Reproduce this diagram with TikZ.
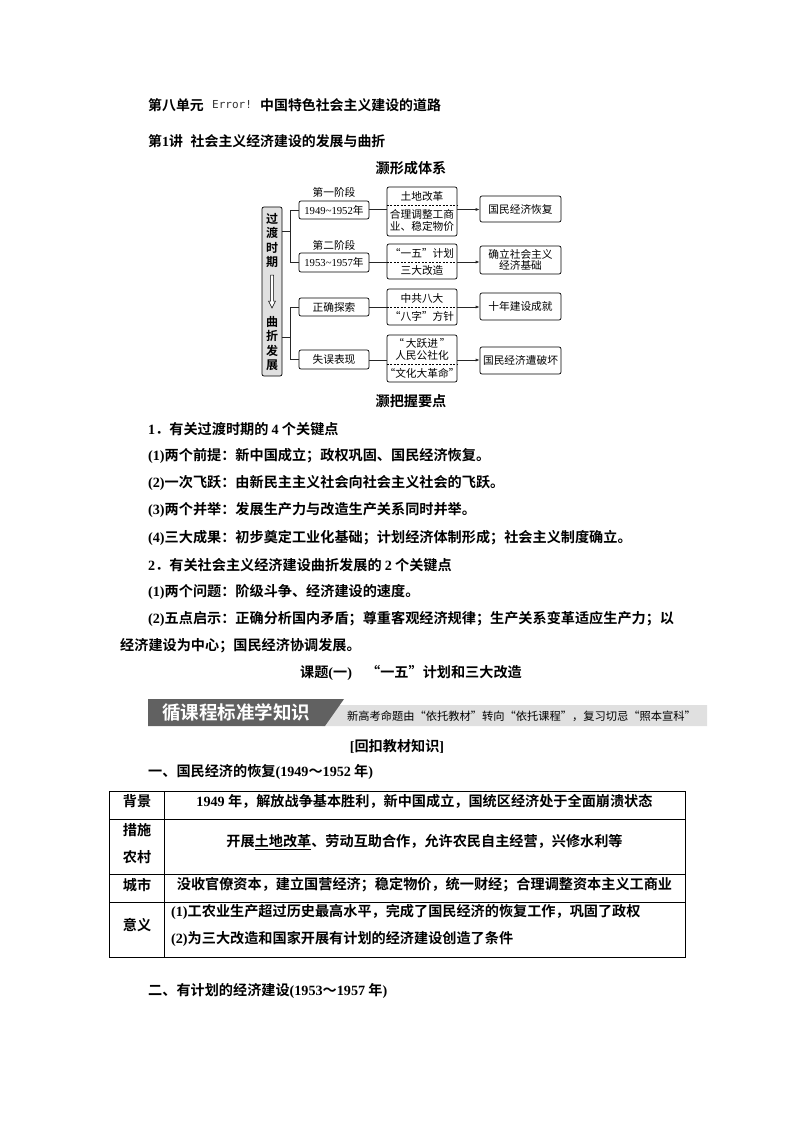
\documentclass[tikz,border=0pt]{standalone}
\usepackage{fontspec}
\usetikzlibrary{arrows.meta}
\setmainfont{Liberation Serif}
\newfontfamily\cjk{Noto Sans CJK SC}
\newfontfamily\cjkb{Noto Sans CJK SC Bold}
\newfontfamily\latb{Liberation Serif Bold}
\newfontfamily\latr{Liberation Serif}
\newfontfamily\monof{DejaVu Sans Mono}
\newcommand{\fs}[1]{\fontsize{#1}{#1}\selectfont}
\newcommand{\nb}[1]{{\latb #1}}
\newcommand{\nr}[1]{{\latr #1}}
\tikzset{x=1pt,y=-1pt,
 txt/.style={inner sep=0pt,anchor=west,font=\cjkb\fs{14.15}},
 ttl/.style={inner sep=0pt,anchor=west,font=\cjkb\fs{13.9}},
 ctr/.style={inner sep=0pt,anchor=center,font=\cjkb\fs{14.15}},
 dia/.style={inner sep=0pt,anchor=center,align=center,font=\cjk\fs{10.7}},
 boxr/.style={draw=black,line width=0.7pt,rounded corners=2pt,fill=white,inner sep=0pt,align=center,font=\cjk\fs{10.7}},
 conn/.style={draw=black!85,line width=0.7pt},
 arr/.style={conn,-{Latex[length=4pt,width=3pt]}},
 dsh/.style={draw=black,line width=0.6pt,dash pattern=on 2pt off 1.5pt},
 tline/.style={draw=black,line width=0.9pt}}
\begin{document}
\begin{tikzpicture}
\useasboundingbox (0,0) rectangle (794,1123);
\fill[white] (0,0) rectangle (794,1123);
% headings
\node[ttl] (t1a) at (148,105) {第八单元};
\node[inner sep=0pt,anchor=west,font=\monof\fs{11},text=black!80] (t1b) at (212,105) {Error!};
\node[ttl] (t1c) at (260,105) {中国特色社会主义建设的道路};
\node[ttl] (t2a) at (148,141) {第\nb{1}讲};
\node[ttl] (t2b) at (190.5,141) {社会主义经济建设的发展与曲折};
\node[ctr] (t3) at (411,168) {灏形成体系};
\node[ctr] (t4) at (411,401) {灏把握要点};
% diagram nodes
\node[boxr,fill=black!12,minimum width=20pt,minimum height=169pt] (L) at (272,291.5) {};
\node[inner sep=0pt,align=center,font=\cjkb\fs{12},anchor=north] (gd) at (272,213) {过\\[2.5pt]渡\\[2.5pt]时\\[2.5pt]期};
\node[inner sep=0pt,align=center,font=\cjkb\fs{12},anchor=south] (qz) at (272,371) {曲\\[2.5pt]折\\[2.5pt]发\\[2.5pt]展};
\draw[black,line width=0.5pt,fill=white] (270.5,275) -- (273.5,275) -- (273.5,301) -- (275.5,301) -- (272,308) -- (268.5,301) -- (270.5,301) -- cycle;
\coordinate (lb1) at (290.5,231);
\coordinate (lb2) at (290.5,337);
\node[dia] (s1) at (334,192.5) {第一阶段};
\node[dia] (s2) at (334,245) {第二阶段};
\foreach \n/\a/\b/\lab in {a1/201/219/{\nr{1949\textasciitilde1952}年},a2/253/272/{\nr{1953\textasciitilde1957}年},a3/298/316/正确探索,a4/350/369/失误表现}{
  \node[boxr,minimum width=70pt,minimum height={(\b-\a)*1pt}] (\n) at (334,{(\a+\b)/2}) {\lab};
}
\foreach \n/\a/\b/\d in {b1/187/236/205,b2/244/279/262,b3/289/325/307,b4/335/382/364}{
  \node[boxr,minimum width=70pt,minimum height={(\b-\a)*1pt}] (\n) at (422,{(\a+\b)/2}) {};
  \coordinate (d\n) at (422,\d);
  \draw[dsh] (\n.west |- d\n) -- (\n.east |- d\n);
}
\node[dia] (b1u) at (422,196) {土地改革};
\node[dia] (b1l) at (422,220.5) {合理调整工商\\[1.5pt]业、稳定物价};
\node[dia] (b2u) at (422,253) {“一五”计划};
\node[dia] (b2l) at (422,270.5) {三大改造};
\node[dia] (b3u) at (422,298.5) {中共八大};
\node[dia] (b3l) at (422,316) {“八字”方针};
\node[dia] (b4u) at (422,349.5) {“\,大跃进\,”\\[1pt]人民公社化};
\node[dia] (b4l) at (422,373) {“文化大革命”};
\foreach \n/\a/\b/\lab in {c1/196/222/国民经济恢复,c2/246/274/{确立社会主义\\[0pt]经济基础},c3/293/320/十年建设成就,c4/347/374/国民经济遭破坏}{
  \node[boxr,minimum width=81pt,minimum height={(\b-\a)*1pt}] (\n) at (520.5,{(\a+\b)/2}) {\lab};
}
% connectors
\draw[conn] (L.east |- lb1) -- (lb1);
\draw[conn] (a1.west) -- (a1.west -| lb1) -- (a2.west -| lb1) -- (a2.west);
\draw[conn] (L.east |- lb2) -- (lb2);
\draw[conn] (a3.west) -- (a3.west -| lb2) -- (a4.west -| lb2) -- (a4.west);
\foreach \i/\y in {1/209.5,2/262,3/307,4/360}{
  \coordinate (j\i) at (422,\y);
  \draw[conn] (a\i.east |- j\i) -- (b\i.west |- j\i);
  \draw[arr] (b\i.east |- j\i) -- (c\i.west |- j\i);
}
% body
\node[txt] (p1) at (148,429) {\nb{1}．有关过渡时期的 \nb{4} 个关键点};
\node[txt] (p2) at (148,456) {\nb{(1)}两个前提：新中国成立；政权巩固、国民经济恢复。};
\node[txt] (p3) at (148,483) {\nb{(2)}一次飞跃：由新民主主义社会向社会主义社会的飞跃。};
\node[txt] (p4) at (148,510) {\nb{(3)}两个并举：发展生产力与改造生产关系同时并举。};
\node[txt] (p5) at (148,538) {\nb{(4)}三大成果：初步奠定工业化基础；计划经济体制形成；社会主义制度确立。};
\node[txt] (p6) at (148,565) {\nb{2}．有关社会主义经济建设曲折发展的 \nb{2} 个关键点};
\node[txt] (p7) at (148,592) {\nb{(1)}两个问题：阶级斗争、经济建设的速度。};
\node[txt] (p8) at (148,619) {\nb{(2)}五点启示：正确分析国内矛盾；尊重客观经济规律；生产关系变革适应生产力；以};
\node[txt] (p9) at (120,646) {经济建设为中心；国民经济协调发展。};
\node[ctr] (p10) at (411,673) {课题\nb{(}一\nb{)}\quad “一五”计划和三大改造};
% banner
\fill[black!12] (330,705) -- (707,705) -- (707,726) -- (322,726) -- cycle;
\fill[black!62] (148,699) -- (344,699) -- (325,726) -- (148,726) -- cycle;
\node[inner sep=0pt,anchor=west,font=\cjkb\fs{18.5},text=white] (bn) at (162,713) {循课程标准学知识};
\node[inner sep=0pt,anchor=west,font=\cjk\fs{11.25}] (bs) at (347,716) {新高考命题由“依托教材”转向“依托课程”，复习切忌“照本宣科”};
\node[ctr] (h1) at (397,746) {\nb{[}回扣教材知识\nb{]}};
\node[txt] (h2) at (148,772) {一、国民经济的恢复\nb{(1949}～\nb{1952} 年\nb{)}};
% table
\draw[tline] (109,791.5) rectangle (685,957);
\draw[tline] (164,791.5) -- (164,957);
\draw[tline] (109,819.5) -- (685,819.5);
\draw[tline] (109,874) -- (685,874);
\draw[tline] (109,902) -- (685,902);
\node[ctr] (r1) at (137,801) {背景};
\node[ctr] (r2a) at (137,830) {措施};
\node[ctr] (r2b) at (137,857) {农村};
\node[ctr] (r3) at (137,885) {城市};
\node[ctr] (r4) at (137,925) {意义};
\node[ctr] (v1) at (424.5,801) {\nb{1949} 年，解放战争基本胜利，新中国成立，国统区经济处于全面崩溃状态};
\node[ctr] (v2) at (424.5,842) {开展\underline{土地改革}、劳动互助合作，允许农民自主经营，兴修水利等};
\node[ctr] (v3) at (424.5,885) {没收官僚资本，建立国营经济；稳定物价，统一财经；合理调整资本主义工商业};
\node[txt] (v4a) at (171,912) {\nb{(1)}工农业生产超过历史最高水平，完成了国民经济的恢复工作，巩固了政权};
\node[txt] (v4b) at (171,939) {\nb{(2)}为三大改造和国家开展有计划的经济建设创造了条件};
\node[txt] (h3) at (148,991) {二、有计划的经济建设\nb{(1953}～\nb{1957} 年\nb{)}};
\end{tikzpicture}
\end{document}
